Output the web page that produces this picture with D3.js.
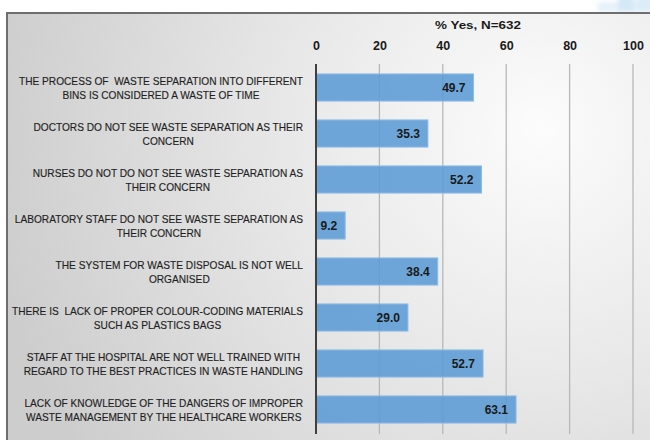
<!DOCTYPE html>
<html>
<head>
<meta charset="utf-8">
<script src="https://cdn.jsdelivr.net/npm/d3@7"></script>
<style>
  html, body { margin: 0; padding: 0; background: #ffffff; }
  svg { display: block; }
</style>
</head>
<body>
<svg id="chart" width="650" height="440"></svg>
<script>
// Survey statements (each split into its two printed lines)
const categories = [
  ["THE PROCESS OF  WASTE SEPARATION INTO DIFFERENT", "BINS IS CONSIDERED A WASTE OF TIME"],
  ["DOCTORS DO NOT SEE WASTE SEPARATION AS THEIR", "CONCERN"],
  ["NURSES DO NOT DO NOT SEE WASTE SEPARATION AS", "THEIR CONCERN"],
  ["LABORATORY STAFF DO NOT SEE WASTE SEPARATION AS", "THEIR CONCERN"],
  ["THE SYSTEM FOR WASTE DISPOSAL IS NOT WELL", "ORGANISED"],
  ["THERE IS  LACK OF PROPER COLOUR-CODING MATERIALS", "SUCH AS PLASTICS BAGS"],
  ["STAFF AT THE HOSPITAL ARE NOT WELL TRAINED WITH", "REGARD TO THE BEST PRACTICES IN WASTE HANDLING"],
  ["LACK OF KNOWLEDGE OF THE DANGERS OF IMPROPER", "WASTE MANAGEMENT BY THE HEALTHCARE WORKERS"]
];
const values = [49.7, 35.3, 52.2, 9.2, 38.4, 29.0, 52.7, 63.1];
const tickValues = [0, 20, 40, 60, 80, 100];
const axisTitle = "% Yes, N=632";

const svg = d3.select("#chart");
const FONT = "'Liberation Sans', Arial, sans-serif";

// Background panel with soft radial shading
const defs = svg.append("defs");
const grad = defs.append("radialGradient")
  .attr("id", "panelGrad")
  .attr("gradientUnits", "userSpaceOnUse")
  .attr("cx", 540).attr("cy", 130).attr("r", 560);
grad.append("stop").attr("offset", "0%").attr("stop-color", "#fcfcfc");
grad.append("stop").attr("offset", "45%").attr("stop-color", "#e8e8e8");
grad.append("stop").attr("offset", "100%").attr("stop-color", "#cdcdcd");

const blur = defs.append("filter").attr("id", "soft")
  .attr("x", "-20%").attr("y", "-50%").attr("width", "140%").attr("height", "200%");
blur.append("feGaussianBlur").attr("stdDeviation", 2);

// Pale blue decoration above the top-right corner of the panel
const deco = svg.append("g").attr("filter", "url(#soft)");
deco.append("rect").attr("x", 598).attr("y", 2).attr("width", 60).attr("height", 10).attr("fill", "#e6f1fa");
deco.append("rect").attr("x", 618).attr("y", -4).attr("width", 16).attr("height", 16).attr("fill", "#d4e8f6");
deco.append("rect").attr("x", 636).attr("y", -4).attr("width", 16).attr("height", 16).attr("fill", "#dcecf8");

svg.append("rect")
  .attr("x", 7).attr("y", 13).attr("width", 660).attr("height", 440)
  .attr("fill", "url(#panelGrad)")
  .attr("stroke", "#6e6e6e").attr("stroke-width", 2);

// Scales
const x = d3.scaleLinear().domain([0, 100]).range([316, 633]);
const y = d3.scaleBand()
  .domain(d3.range(categories.length))
  .range([64.5, 432.5])
  .paddingInner(0.41)
  .paddingOuter(0.205);

// Vertical gridlines
svg.append("g")
  .selectAll("line")
  .data(tickValues.filter(v => v > 0))
  .join("line")
  .attr("x1", d => x(d)).attr("x2", d => x(d))
  .attr("y1", 64).attr("y2", 434)
  .attr("stroke", "#b8b8b8").attr("stroke-width", 1.3);

// Top axis with tick labels only
const axis = svg.append("g")
  .attr("transform", "translate(0,49.5)")
  .call(d3.axisTop(x).tickValues(tickValues).tickSize(0).tickPadding(0).tickFormat(d3.format("d")));
axis.select(".domain").remove();
axis.selectAll("text")
  .attr("font-family", FONT)
  .attr("font-size", 12.5)
  .attr("font-weight", "bold")
  .attr("fill", "#1a1a1a")
  .attr("dy", 0);

svg.append("text")
  .attr("x", 478)
  .attr("y", 29)
  .attr("text-anchor", "middle")
  .attr("font-family", FONT)
  .attr("font-size", 11.5)
  .attr("font-weight", "bold")
  .attr("fill", "#1a1a1a")
  .attr("textLength", 86)
  .attr("lengthAdjust", "spacingAndGlyphs")
  .text(axisTitle);

// Bars
svg.append("g")
  .selectAll("rect")
  .data(values)
  .join("rect")
  .attr("x", x(0))
  .attr("y", (d, i) => y(i))
  .attr("width", d => x(d) - x(0))
  .attr("height", y.bandwidth())
  .attr("fill", "#5b9bd5")
  .attr("fill-opacity", 0.88)
  .attr("stroke", "#8fbbe3")
  .attr("stroke-width", 1);

// Value labels inside the bar ends
svg.append("g")
  .selectAll("text")
  .data(values)
  .join("text")
  .attr("x", d => x(d) - 8)
  .attr("y", (d, i) => y(i) + y.bandwidth() / 2)
  .attr("dy", "0.36em")
  .attr("text-anchor", "end")
  .attr("font-family", FONT)
  .attr("font-size", 12)
  .attr("font-weight", "bold")
  .attr("fill", "#1a1a1a")
  .text(d => d.toFixed(1));

// Category axis line
svg.append("line")
  .attr("x1", x(0)).attr("x2", x(0))
  .attr("y1", 64).attr("y2", 434)
  .attr("stroke", "#404040").attr("stroke-width", 2);

// Category labels: two centred lines, block right-aligned against the axis.
// Glyphs are condensed uniformly so the first statement spans 284px.
const labelRight = 303;
const lineGap = 14;
const labelSize = 10.8;
const labelG = svg.append("g");
const probe = labelG.append("text")
  .attr("font-family", FONT).attr("font-size", labelSize)
  .attr("xml:space", "preserve")
  .text(categories[0][0]);
const squeeze = 284 / probe.node().getComputedTextLength();
probe.remove();

categories.forEach((lines, i) => {
  const g = labelG.append("g");
  const texts = lines.map((t, k) => g.append("text")
    .attr("y", y(i) + y.bandwidth() / 2 + 0.8 + (k - (lines.length - 1) / 2) * lineGap)
    .attr("dy", "0.36em")
    .attr("text-anchor", "middle")
    .attr("font-family", FONT)
    .attr("font-size", labelSize)
    .attr("fill", "#1f1f1f")
    .attr("stroke", "#1f1f1f")
    .attr("stroke-width", 0.15)
    .attr("xml:space", "preserve")
    .text(t));
  const widths = texts.map(t => t.node().getComputedTextLength() * squeeze);
  const w = d3.max(widths);
  texts.forEach((t, k) => t
    .attr("x", labelRight - w / 2)
    .attr("textLength", widths[k])
    .attr("lengthAdjust", "spacingAndGlyphs"));
});
</script>
</body>
</html>
